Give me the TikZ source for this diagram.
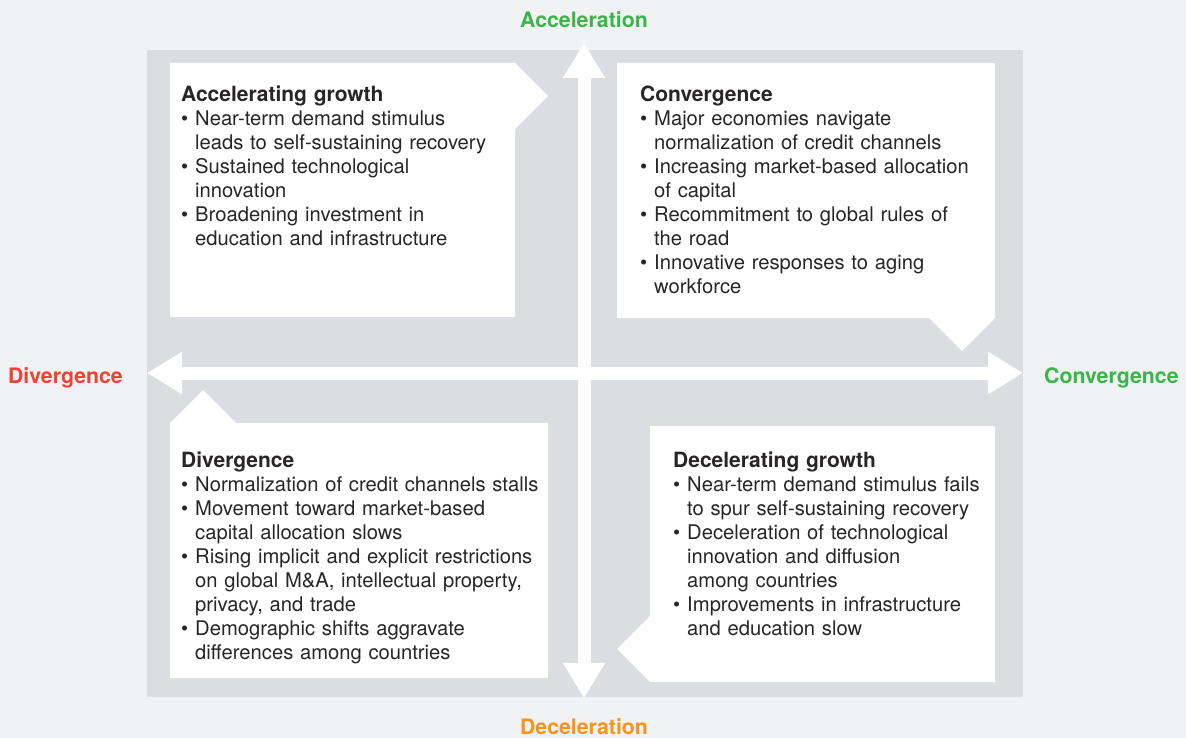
\documentclass[tikz,border=0pt]{standalone}
\usepackage{fontspec}
\setmainfont{TeX Gyre Heros}
\usetikzlibrary{arrows.meta, positioning}
\definecolor{bgGray}{RGB}{241,242,244}
\definecolor{fieldGray}{RGB}{220,221,224}
\definecolor{txtDark}{RGB}{40,37,38}
\definecolor{accGreen}{RGB}{57,181,74}
\definecolor{divRed}{RGB}{239,65,54}
\definecolor{decOrange}{RGB}{247,148,29}
\newcommand{\ttl}[1]{{\fontsize{21}{24}\selectfont\textbf{#1}}\par}
\newcommand{\itm}[1]{\hangindent=14pt\hangafter=1\noindent\makebox[14pt][l]{\textbullet}#1\par}

\begin{document}
\begin{tikzpicture}[x = 1pt, y = -1pt, axis arrow/.style = { white, line width = 13pt, {Triangle[length = 35pt, width = 40pt]}-{Triangle[length = 35pt, width = 40pt]} }, panel/.style = { fill = white }, quadrant/.style = { inner sep = 0, anchor = base west, text width = 400pt, align = left, text = txtDark, font = \fontsize{20.2}{24}\selectfont }, axis label/.style = { inner sep = 0, text depth = 0pt, font = \fontsize{21.3}{24}\selectfont\bfseries }]
	\useasboundingbox (0,0) rectangle (1186,738);
	\fill [bgGray] (0,0) rectangle (1186,738);
	\fill [fieldGray] (147,50) rectangle (1023,697);

	% callout panels
	\fill [panel] (170,63) -- (515,63) -- (548,96) -- (515,129) -- (515,317) -- (170,317) -- cycle;
	\fill [panel] (617,63) -- (995,63) -- (995,318) -- (962,351) -- (929,318) -- (617,318) -- cycle;
	\fill [panel] (170,423) -- (203,390) -- (236,423) -- (548,423) -- (548,678) -- (170,678) -- cycle;
	\fill [panel] (650,426) -- (995,426) -- (995,682) -- (650,682) -- (617,649) -- (650,616) -- cycle;

	% axes
	\coordinate (axTop) at (584,43);
	\coordinate (axBot) at (584,698);
	\coordinate (axL) at (147,373);
	\coordinate (axR) at (1023,373);
	\draw [axis arrow] (axBot) -- (axTop);
	\draw [axis arrow] (axL) -- (axR);

	\node [axis label, text = accGreen, above = 15pt of axTop] (lAcc) {Acceleration};
	\node [axis label, text = decOrange, below = 20pt of axBot] (lDec) {Deceleration};
	\node [axis label, text = divRed, left = 24pt of axL, yshift = -2.5pt] (lDiv) {Divergence};
	\node [axis label, text = accGreen, right = 21pt of axR, yshift = -2.5pt] (lConv) {Convergence};

	% quadrant texts
	\node [quadrant] (qAcc) at (181,101.5) {\ttl{Accelerating growth}
		\itm{Near-term demand stimulus\newline leads to self-sustaining recovery}
		\itm{Sustained technological\newline innovation}
		\itm{Broadening investment in\newline education and infrastructure}};
	\node [quadrant] (qConv) at (640,101.5) {\ttl{Convergence}
		\itm{Major economies navigate\newline normalization of credit channels}
		\itm{Increasing market-based allocation\newline of capital}
		\itm{Recommitment to global rules of\newline the road}
		\itm{Innovative responses to aging\newline workforce}};
	\node [quadrant] (qDiv) at (181,467) {\ttl{Divergence}
		\itm{Normalization of credit channels stalls}
		\itm{Movement toward market-based\newline capital allocation slows}
		\itm{Rising implicit and explicit restrictions\newline on global M\&A, intellectual property,\newline privacy, and trade}
		\itm{Demographic shifts aggravate\newline differences among countries}};
	\node [quadrant] (qDec) at (673,467) {\ttl{Decelerating growth}
		\itm{Near-term demand stimulus fails\newline to spur self-sustaining recovery}
		\itm{Deceleration of technological\newline innovation and diffusion\newline among countries}
		\itm{Improvements in infrastructure\newline and education slow}};
\end{tikzpicture}
\end{document}
